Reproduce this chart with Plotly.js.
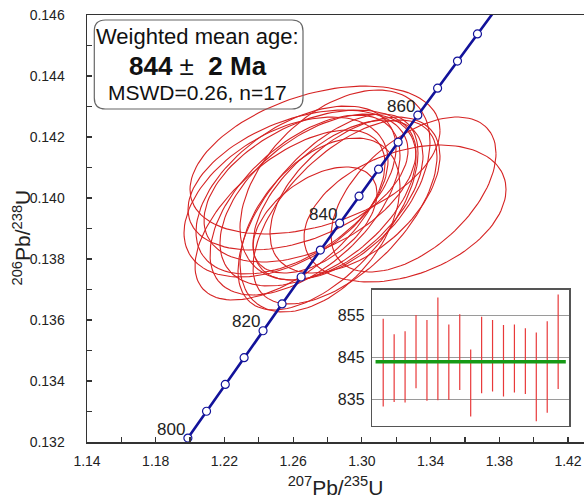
<!DOCTYPE html>
<html><head><meta charset="utf-8">
<script src="https://cdn.plot.ly/plotly-3.0.1.min.js"></script>
<style>html,body{margin:0;padding:0;background:#fff}#chart{width:584px;height:499px}</style>
</head><body><div id="chart"></div>
<script>
// Concordia reference points (age, Ma)
const concAge = [800,805,810,815,820,825,830,835,840,845,850,855,860,865,870,875,880];
const conc207 = [1.19873,1.20958,1.22049,1.23145,1.24247,1.25354,1.26466,1.27584,1.28707,1.29836,1.30971,1.32111,1.33257,1.34408,1.35566,1.36728,1.37897];
const conc206 = [0.132129,0.133008,0.133887,0.134766,0.135647,0.136528,0.137410,0.138293,0.139176,0.140060,0.140944,0.141830,0.142716,0.143602,0.144490,0.145378,0.146266];
const concLabels = [800,820,840,860];

// Analysis ellipses: centre, half-extent and correlation
const ellX   = [1.25584,1.26166,1.26690,1.27447,1.28029,1.26981,1.29018,1.26283,1.27272,1.28436,1.27272,1.33006,1.32511,1.29600,1.25817,1.27563,1.28611];
const ellSX  = [0.05937,0.05821,0.05530,0.05705,0.05239,0.06170,0.05355,0.06403,0.07276,0.05530,0.03609,0.04802,0.05879,0.04948,0.05530,0.04657,0.04948];
const ellY   = [0.140033,0.140262,0.139770,0.139934,0.139541,0.140393,0.139541,0.140590,0.141246,0.140426,0.139279,0.140115,0.139492,0.140098,0.139443,0.139115,0.139934];
const ellSY  = [0.002623,0.002754,0.002951,0.002820,0.003213,0.002492,0.003016,0.002295,0.002426,0.003115,0.001738,0.002541,0.002246,0.002557,0.002787,0.002852,0.002623];
const ellRho = [0.45,0.50,0.55,0.50,0.60,0.45,0.60,0.42,0.40,0.45,0.50,0.53,0.35,0.50,0.60,0.45,0.55];

// Inset: individual ages with error bars and weighted mean
const spotNo = [1,2,3,4,5,6,7,8,9,10,11,12,13,14,15,16,17];
const ageHi = [854.3,850.6,851.3,855.2,854.0,859.4,852.9,855.4,846.9,854.8,854.0,852.8,852.9,852.0,851.0,853.7,860.1];
const ageLo = [833.2,834.3,834.2,837.6,834.6,834.7,834.8,837.2,830.8,836.4,836.8,835.6,836.6,836.2,829.7,831.7,837.4];
const meanAge = 844;
const meanSpan = [0.3, 17.7];

const FONT = 'Arial, "Liberation Sans", sans-serif';

// build ellipse outlines
const ex = [], ey = [];
const N = 120;
for (let i = 0; i < ellX.length; i++) {
  const r = ellRho[i], q = Math.sqrt(1 - r * r);
  for (let k = 0; k <= N; k++) {
    const t = 2 * Math.PI * k / N;
    ex.push(ellX[i] + ellSX[i] * Math.cos(t));
    ey.push(ellY[i] + ellSY[i] * (r * Math.cos(t) + q * Math.sin(t)));
  }
  ex.push(null); ey.push(null);
}

// inset bars
const bx = [], by = [];
spotNo.forEach((n, i) => { bx.push(n, n, null); by.push(ageLo[i], ageHi[i], null); });

const traces = [
  {x: ex, y: ey, mode: 'lines', line: {color: '#d62323', width: 1.1}, hoverinfo: 'skip', xaxis: 'x', yaxis: 'y'},
  {x: conc207, y: conc206, mode: 'lines', line: {color: '#12129a', width: 2.6}, hoverinfo: 'skip'},
  {x: conc207.slice(0, 16), y: conc206.slice(0, 16), mode: 'markers', cliponaxis: false,
   marker: {symbol: 'circle', size: 8, color: '#ffffff', line: {color: '#12129a', width: 1.2}}, hoverinfo: 'skip'},
  {x: bx, y: by, mode: 'lines', line: {color: '#e8393a', width: 1.2}, xaxis: 'x2', yaxis: 'y2', hoverinfo: 'skip'},
  {x: meanSpan, y: [meanAge, meanAge], mode: 'lines', line: {color: '#169a16', width: 3.5}, xaxis: 'x2', yaxis: 'y2', hoverinfo: 'skip'}
];

// rounded text box (data coords)
const bx0 = 1.14425, bx1 = 1.26573, by0 = 0.142918, by1 = 0.145836, rx = 0.0064, ry = 0.00036;
const boxPath = `M${bx0+rx},${by1} L${bx1-rx},${by1} Q${bx1},${by1} ${bx1},${by1-ry} L${bx1},${by0+ry} Q${bx1},${by0} ${bx1-rx},${by0} L${bx0+rx},${by0} Q${bx0},${by0} ${bx0},${by0+ry} L${bx0},${by1-ry} Q${bx0},${by1} ${bx0+rx},${by1} Z`;

const annotations = concLabels.map(a => {
  const i = concAge.indexOf(a);
  return {x: conc207[i], y: conc206[i], xref: 'x', yref: 'y', text: String(a), showarrow: false,
          xshift: -17, yshift: 9, font: {family: FONT, size: 17, color: '#222'}};
});
const tx = 1.2046;
annotations.push(
  {x: tx, y: 0.145279, xref: 'x', yref: 'y', text: 'Weighted mean age:', showarrow: false, font: {family: FONT, size: 22, color: '#111'}},
  {x: tx, y: 0.144328, xref: 'x', yref: 'y', text: '<b>844</b> \u00b1 <b>\u00a02 Ma</b>', showarrow: false, font: {family: FONT, size: 26, color: '#111'}},
  {x: tx, y: 0.143443, xref: 'x', yref: 'y', text: 'MSWD=0.26, n=17', showarrow: false, font: {family: FONT, size: 21, color: '#111'}},
  // y-axis title
  {x: 0, y: 0.5, xref: 'paper', yref: 'paper', xanchor: 'center', yanchor: 'middle', xshift: -66, yshift: -9, textangle: -90, showarrow: false,
   text: '<sup>206</sup>Pb/<sup>238</sup>U', font: {family: FONT, size: 21, color: '#222'}}
);

const axCol = '#333';
const layout = {
  width: 584, height: 499,
  margin: {l: 87, r: 0, t: 15, b: 57, pad: 0},
  paper_bgcolor: '#fff', plot_bgcolor: '#fff',
  showlegend: false,
  font: {family: FONT, color: '#222'},
  xaxis: {
    domain: [0, 1], anchor: 'y', range: [1.14, 1.4293], tick0: 1.14, dtick: 0.04, tickformat: '.2f',
    ticks: 'inside', ticklen: 5, tickwidth: 1.2, tickcolor: axCol,
    minor: {dtick: 0.02, ticks: 'inside', ticklen: 5, tickwidth: 1.2, tickcolor: axCol, showgrid: false},
    showline: true, linecolor: axCol, linewidth: 1.5, mirror: true, showgrid: false, zeroline: false,
    tickfont: {family: FONT, size: 14, color: '#222'}, ticklabelstandoff: 6,
    title: {text: '<sup>207</sup>Pb/<sup>235</sup>U', font: {family: FONT, size: 21, color: '#222'}, standoff: 12}
  },
  yaxis: {
    domain: [0, 1], anchor: 'x', range: [0.132, 0.146], tick0: 0.132, dtick: 0.002, tickformat: '.3f',
    ticks: 'inside', ticklen: 5, tickwidth: 1.2, tickcolor: axCol,
    minor: {dtick: 0.001, ticks: 'inside', ticklen: 5, tickwidth: 1.2, tickcolor: axCol, showgrid: false},
    showline: true, linecolor: axCol, linewidth: 1.5, mirror: false, showgrid: false, zeroline: false,
    tickfont: {family: FONT, size: 14, color: '#222'}, ticklabelstandoff: 18
  },
  xaxis2: {
    domain: [0.574, 0.970], anchor: 'y2', range: [0, 18], showticklabels: false, ticks: '',
    showline: true, mirror: true, linecolor: '#555', linewidth: 1.5, showgrid: false, zeroline: false
  },
  yaxis2: {
    domain: [0.038, 0.356], anchor: 'x2', range: [828.6, 861.2], tickvals: [835, 845, 855], ticks: '',
    showline: true, mirror: true, linecolor: '#555', linewidth: 1.5, showgrid: true, gridcolor: '#9a9a9a', gridwidth: 1,
    zeroline: false, tickfont: {family: FONT, size: 16, color: '#222'}, ticklabelstandoff: 3
  },
  shapes: [{type: 'path', xref: 'x', yref: 'y', path: boxPath, line: {color: '#666', width: 1.2}, fillcolor: 'rgba(0,0,0,0)', layer: 'above'}],
  annotations: annotations
};

Plotly.newPlot('chart', traces, layout, {staticPlot: true, displayModeBar: false});
</script></body></html>
